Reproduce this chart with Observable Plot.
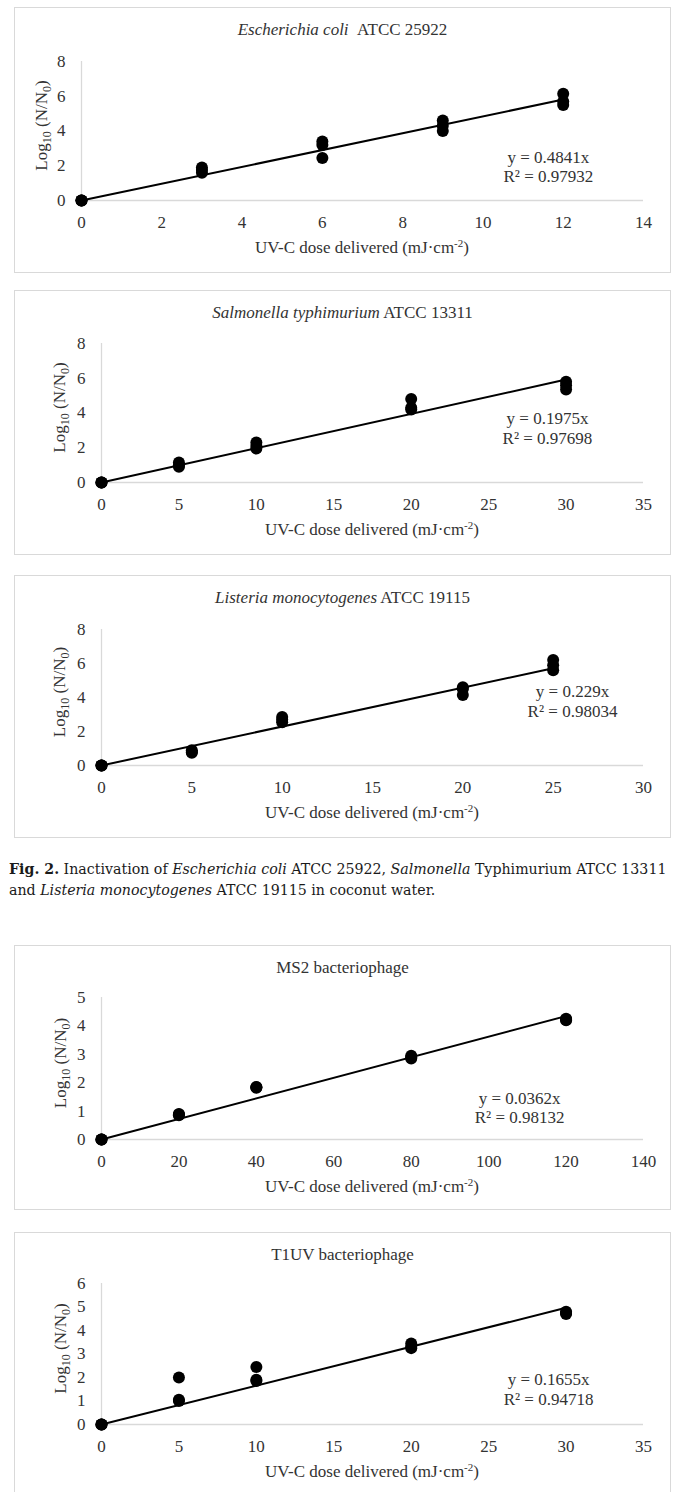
<!DOCTYPE html>
<html>
<head>
<meta charset="utf-8">
<script src="https://cdn.jsdelivr.net/npm/d3@7"></script>
<script src="https://cdn.jsdelivr.net/npm/@observablehq/plot@0.6"></script>
<style>
  html, body { margin: 0; padding: 0; background: #fff; }
  body { width: 676px; height: 1492px; position: relative; overflow: hidden; font-family: 'Liberation Serif', 'Times New Roman', serif; }
  .box { position: absolute; left: 14px; width: 657px; border: 1px solid #d9d9d9; box-sizing: border-box; }
  .ptitle { position: absolute; left: 14px; width: 657px; text-align: center; font-size: 17px; line-height: 20px; color: #333; white-space: nowrap; }
  .chart { position: absolute; left: 0; }
  .caption { position: absolute; left: 9px; font-family: 'DejaVu Serif', serif; font-size: 14.2px; line-height: 21px; color: #1a1a1a; white-space: nowrap; }
</style>
</head>
<body>
<script>
// ---------- Data ----------
// E. coli ATCC 25922
const ecoliDose = [0, 0, 0, 3, 3, 3, 6, 6, 6, 9, 9, 9, 12, 12, 12];
const ecoliLog  = [0, 0, 0, 1.9, 1.75, 1.6, 3.4, 3.2, 2.45, 4.6, 4.3, 4.0, 6.15, 5.7, 5.5];
const ecoliSlope = 0.4841;
const ecoliEq = ["y = 0.4841x", "R² = 0.97932"];

// Salmonella typhimurium ATCC 13311
const salmDose = [0, 0, 0, 5, 5, 5, 10, 10, 10, 20, 20, 20, 30, 30, 30];
const salmLog  = [0, 0, 0, 1.15, 1.0, 0.9, 2.3, 2.1, 1.95, 4.8, 4.3, 4.2, 5.8, 5.6, 5.35];
const salmSlope = 0.1975;
const salmEq = ["y = 0.1975x", "R² = 0.97698"];

// Listeria monocytogenes ATCC 19115
const listDose = [0, 0, 0, 5, 5, 5, 10, 10, 10, 20, 20, 20, 25, 25, 25];
const listLog  = [0, 0, 0, 0.9, 0.8, 0.75, 2.85, 2.7, 2.55, 4.6, 4.5, 4.15, 6.2, 5.9, 5.6];
const listSlope = 0.229;
const listEq = ["y = 0.229x", "R² = 0.98034"];

// MS2 bacteriophage
const ms2Dose = [0, 0, 0, 20, 20, 20, 40, 40, 40, 80, 80, 80, 120, 120, 120];
const ms2Log  = [0, 0, 0, 0.9, 0.88, 0.85, 1.85, 1.84, 1.82, 2.95, 2.9, 2.85, 4.25, 4.22, 4.2];
const ms2Slope = 0.0362;
const ms2Eq = ["y = 0.0362x", "R² = 0.98132"];

// T1UV bacteriophage
const t1Dose = [0, 0, 0, 5, 5, 5, 10, 10, 10, 20, 20, 20, 30, 30, 30];
const t1Log  = [0, 0, 0, 2.0, 1.05, 1.0, 2.45, 1.9, 1.85, 3.45, 3.3, 3.25, 4.8, 4.75, 4.7];
const t1Slope = 0.1655;
const t1Eq = ["y = 0.1655x", "R² = 0.94718"];

// Axis ticks
const xTicks14 = [0, 2, 4, 6, 8, 10, 12, 14];
const xTicks35 = [0, 5, 10, 15, 20, 25, 30, 35];
const xTicks30 = [0, 5, 10, 15, 20, 25, 30];
const xTicks140 = [0, 20, 40, 60, 80, 100, 120, 140];
const yTicks8 = [0, 2, 4, 6, 8];
const yTicks5 = [0, 1, 2, 3, 4, 5];
const yTicks6 = [0, 1, 2, 3, 4, 5, 6];

// Titles
const titles = [
  ["Escherichia coli", "\u00a0\u00a0ATCC 25922"],
  ["Salmonella typhimurium", " ATCC 13311"],
  ["Listeria monocytogenes", " ATCC 19115"],
  ["", "MS2 bacteriophage"],
  ["", "T1UV bacteriophage"]
];
const xLabel = ["UV-C dose delivered (mJ·cm", "-2", ")"];

// Equation label positions (data coordinates)
const eqPos = [[11.63, 1.96], [28.8, 3.14], [26.07, 3.82], [108, 1.14], [28.87, 1.53]];

// ---------- Layout ----------
const layout = [
  {top: 7,    boxH: 266, mt: 54, mb: 73, ml: 81,  ylx: 42},
  {top: 290,  boxH: 265, mt: 53, mb: 74, ml: 101, ylx: 60},
  {top: 575,  boxH: 263, mt: 54, mb: 76, ml: 101, ylx: 60},
  {top: 945,  boxH: 265, mt: 52, mb: 72, ml: 101, ylx: 61},
  {top: 1232, boxH: 265, mt: 51, mb: 74, ml: 101, ylx: 61}
];

const panels = [
  {dose: ecoliDose, log: ecoliLog, slope: ecoliSlope, eq: ecoliEq, xTicks: xTicks14, yTicks: yTicks8},
  {dose: salmDose, log: salmLog, slope: salmSlope, eq: salmEq, xTicks: xTicks35, yTicks: yTicks8},
  {dose: listDose, log: listLog, slope: listSlope, eq: listEq, xTicks: xTicks30, yTicks: yTicks8},
  {dose: ms2Dose, log: ms2Log, slope: ms2Slope, eq: ms2Eq, xTicks: xTicks140, yTicks: yTicks5},
  {dose: t1Dose, log: t1Log, slope: t1Slope, eq: t1Eq, xTicks: xTicks35, yTicks: yTicks6}
];

const W = 676, xRight = 643, TXT = "#333333";
const FONT = "'Liberation Serif', 'Times New Roman', serif";

panels.forEach((p, i) => {
  const L = layout[i];
  // box
  const box = document.createElement("div");
  box.className = "box";
  box.style.top = L.top + "px";
  box.style.height = L.boxH + "px";
  document.body.appendChild(box);
  // title
  const t = document.createElement("div");
  t.className = "ptitle";
  t.style.top = (L.top + 13) + "px";
  if (titles[i][0]) {
    const it = document.createElement("i");
    it.textContent = titles[i][0];
    t.appendChild(it);
  }
  t.appendChild(document.createTextNode(titles[i][1]));
  document.body.appendChild(t);

  const data = p.dose.map((d, k) => ({dose: d, log: p.log[k]}));
  const xMaxData = d3.max(p.dose);
  const fit = [{dose: 0, log: 0}, {dose: xMaxData, log: p.slope * xMaxData}];
  const H = 266;

  const chart = Plot.plot({
    width: W,
    height: H,
    marginLeft: L.ml,
    marginRight: W - xRight,
    marginTop: L.mt,
    marginBottom: L.mb,
    style: {fontFamily: FONT, fontSize: "17px", color: TXT, background: "transparent", overflow: "visible"},
    x: {domain: [0, d3.max(p.xTicks)]},
    y: {domain: [0, d3.max(p.yTicks)]},
    marks: [
      Plot.ruleY([0], {stroke: "#d9d9d9", strokeWidth: 1.3}),
      Plot.ruleX([0], {stroke: "#d9d9d9", strokeWidth: 1.3}),
      Plot.axisX(p.xTicks, {tickSize: 0, tickPadding: 15, label: null, fill: TXT, fontSize: 17}),
      Plot.axisY(p.yTicks, {tickSize: 0, tickPadding: 16, label: null, fill: TXT, fontSize: 17}),
      Plot.line(fit, {x: "dose", y: "log", stroke: "#000", strokeWidth: 2}),
      Plot.dot(data, {x: "dose", y: "log", r: 6, fill: "#000", stroke: "none"}),
      Plot.text([p.eq.join("\n")], {x: () => eqPos[i][0], y: () => eqPos[i][1], text: d => d, textAnchor: "middle", lineHeight: 1.15, fontSize: 17, fill: TXT})
    ]
  });
  chart.classList.add("chart");
  chart.style.position = "absolute";
  chart.style.top = L.top + "px";
  chart.style.left = "0px";
  document.body.appendChild(chart);

  const svg = d3.select(chart);
  const xs = chart.scale("x"), ys = chart.scale("y");
  const y0 = ys.apply(0), yTop = ys.apply(d3.max(p.yTicks));
  const xc = (xs.apply(0) + xs.apply(d3.max(p.xTicks))) / 2;

  // x-axis title with superscript
  const xt = svg.append("text")
    .attr("x", xc).attr("y", y0 + 47)
    .attr("text-anchor", "middle").attr("dy", "0.35em")
    .attr("fill", TXT).attr("font-size", 17)
    .attr("font-family", FONT);
  xt.append("tspan").text(xLabel[0]);
  xt.append("tspan").attr("dy", -6).attr("font-size", 11).text(xLabel[1]);
  xt.append("tspan").attr("dy", 6).attr("font-size", 17).text(xLabel[2]);

  // y-axis title with subscripts
  const cy = (y0 + yTop) / 2 - 5;
  const yt = svg.append("text")
    .attr("transform", `translate(${L.ylx + 5},${cy}) rotate(-90)`)
    .attr("text-anchor", "middle")
    .attr("fill", TXT).attr("font-size", 17)
    .attr("font-family", FONT);
  yt.append("tspan").text("Log");
  yt.append("tspan").attr("dy", 4).attr("font-size", 12).text("10");
  yt.append("tspan").attr("dy", -4).attr("font-size", 17).text(" (N/N");
  yt.append("tspan").attr("dy", 4).attr("font-size", 12).text("0");
  yt.append("tspan").attr("dy", -4).attr("font-size", 17).text(")");
});

// caption
const cap = document.createElement("div");
cap.className = "caption";
cap.style.top = "859px";
cap.innerHTML = "<b>Fig. 2.</b> Inactivation of <i>Escherichia coli</i> ATCC 25922, <i>Salmonella</i> Typhimurium ATCC 13311<br>and <i>Listeria monocytogenes</i> ATCC 19115 in coconut water.";
document.body.appendChild(cap);
</script>
</body>
</html>
